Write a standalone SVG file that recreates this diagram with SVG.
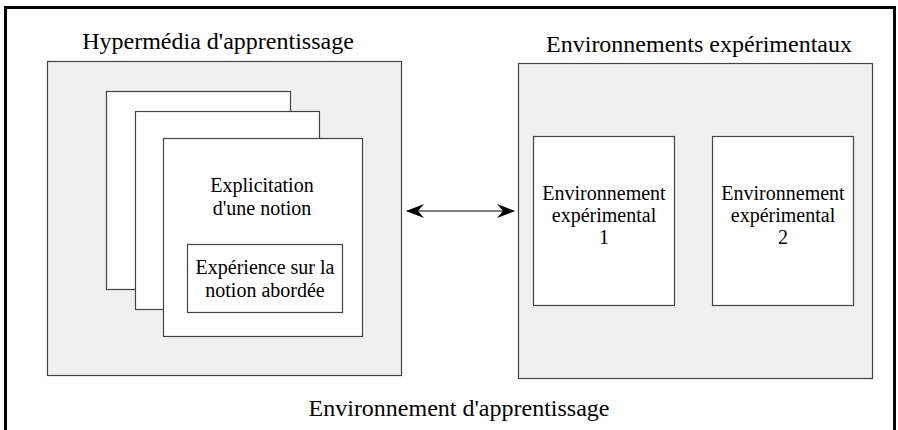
<svg xmlns="http://www.w3.org/2000/svg" width="898" height="430" viewBox="0 0 898 430">
<style>
text{font-family:"Liberation Serif","Times New Roman",serif;fill:#000;text-anchor:middle}
.t{font-size:24px}
.s{font-size:20px}
.gray{fill:#f0f0f0;stroke:#444;stroke-width:1.2}
.page{fill:#fff;stroke:#444;stroke-width:1.2}
</style>
<defs>
<marker id="ah" viewBox="0 0 18 14" refX="17" refY="7" markerWidth="18" markerHeight="14" markerUnits="userSpaceOnUse" orient="auto-start-reverse">
<path d="M0,0 L18,7 L0,14 L6,7 Z" fill="#000"/>
</marker>
</defs>
<rect width="898" height="430" fill="#fff"/>
<g id="frame">
<path d="M5.5,432 V7.5 H894.5 V432" fill="none" stroke="#000" stroke-width="3"/>
<text class="t" x="459" y="416">Environnement d'apprentissage</text>
</g>
<g id="hypermedia">
<rect class="gray" x="47.5" y="61.5" width="354" height="314"/>
<text class="t" x="218" y="49">Hypermédia d'apprentissage</text>
</g>
<g id="page3"><rect class="page" x="106.5" y="91.5" width="184" height="198"/></g>
<g id="page2"><rect class="page" x="135.5" y="111.5" width="184" height="198"/></g>
<g id="page1">
<rect class="page" x="163.5" y="138.5" width="199" height="198"/>
<text class="s" x="262" y="192">Explicitation</text>
<text class="s" x="262" y="215">d'une notion</text>
</g>
<g id="experience">
<rect class="page" x="187.5" y="244.5" width="155" height="68"/>
<text class="s" x="265" y="274">Expérience sur la</text>
<text class="s" x="265" y="297">notion abordée</text>
</g>
<g id="envs">
<rect class="gray" x="518.5" y="63.5" width="354" height="315"/>
<text class="t" x="699" y="52">Environnements expérimentaux</text>
</g>
<g id="env1">
<rect class="page" x="533.5" y="136.5" width="141" height="169"/>
<text class="s" x="604" y="200">Environnement</text>
<text class="s" x="604" y="222">expérimental</text>
<text class="s" x="604" y="244">1</text>
</g>
<g id="env2">
<rect class="page" x="712.5" y="136.5" width="141" height="169"/>
<text class="s" x="783" y="200">Environnement</text>
<text class="s" x="783" y="222">expérimental</text>
<text class="s" x="783" y="244">2</text>
</g>
<g id="connectors">
<line x1="407" y1="211" x2="514" y2="211" stroke="#000" stroke-width="1.2" marker-start="url(#ah)" marker-end="url(#ah)"/>
</g>
</svg>
